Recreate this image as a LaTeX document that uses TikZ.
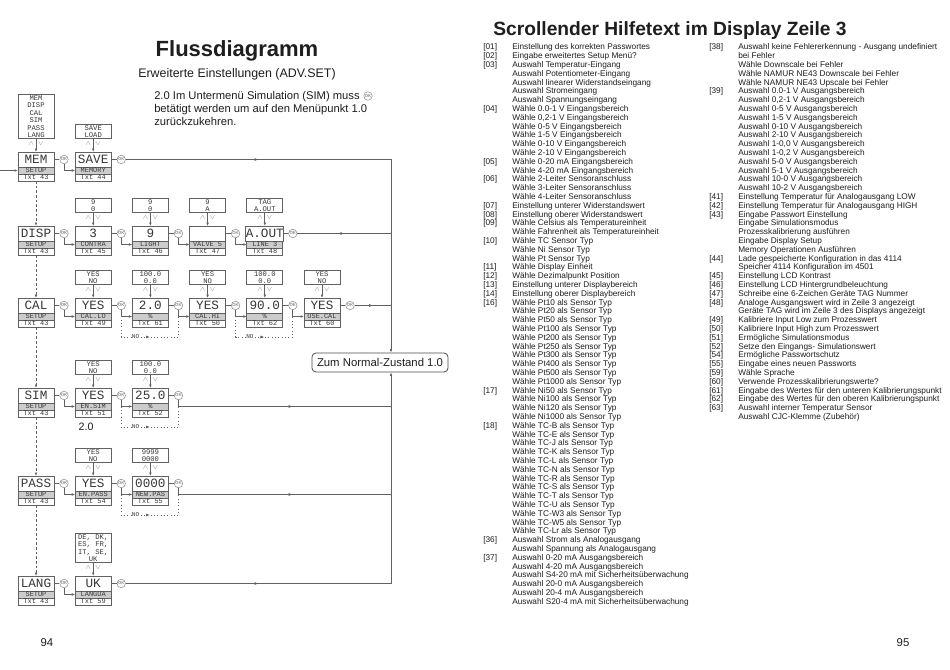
\documentclass[tikz,border=0pt]{standalone}
\usepackage{fontspec}
\setmainfont{Liberation Sans}
\newfontfamily\lcd{Liberation Mono}
\usetikzlibrary{arrows.meta,positioning,decorations.markings}
\definecolor{FigureInk}{HTML}{1E1E1E}
\definecolor{LcdLine}{gray}{0.38}
\definecolor{LcdBand}{gray}{0.80}
\definecolor{LcdInk}{gray}{0.22}
\definecolor{OkLine}{gray}{0.55}
\newcommand{\Display}[6]{%
  \node[lcdtop] (#1) at (#2,#3+7.5) {#4};
  \node[lcdband,anchor=north] (#1-band) at (#1.south) {#5};
  \node[lcdtxt,anchor=north] (#1-txt) at (#1-band.south) {#6};
  \node[okmark] (#1-ok) at (#2+28,#3+7.5) {OK};
  \draw[wire] (#1) -- (#1-ok);
}
\newcommand{\Choices}[2]{%
  \node[choice,above=9.75pt of #1] (#1-set) {#2};
  \draw[feed] (#1-set) -- node[scrollmark] {$\wedge\hspace{2.5pt}\vee$} (#1);
}
\newcommand{\HelpRef}[1]{[#1]}

\begin{document}
\begin{tikzpicture}[
  x=0.75pt,y=-0.75pt,
  font=\fontsize{8.4}{9.75}\selectfont,text=FigureInk,
  lcdtop/.style={draw=LcdLine,line width=0.5pt,minimum width=27pt,minimum height=11.25pt,
                 inner sep=0pt,outer sep=0pt,text=LcdInk,font=\lcd\fontsize{9.5}{9.5}\selectfont},
  lcdband/.style={lcdtop,fill=LcdBand,minimum height=5.25pt,font=\lcd\fontsize{5.2}{5.2}\selectfont},
  lcdtxt/.style={lcdtop,minimum height=5.25pt,font=\lcd\fontsize{5.2}{5.2}\selectfont},
  choice/.style={draw=LcdLine,line width=0.5pt,minimum width=27pt,inner xsep=0.5pt,inner ysep=0.8pt,
                 align=center,text=LcdInk,font=\lcd\fontsize{5.4}{5.6}\selectfont},
  okmark/.style={circle,draw=OkLine,line width=0.4pt,fill=white,minimum size=6.4pt,inner sep=0pt,
                 text=OkLine,font=\bfseries\fontsize{3.2}{3.2}\selectfont},
  scrollmark/.style={pos=.35,text=OkLine,font=\fontsize{4}{4}\selectfont,inner sep=0pt},
  wire/.style={draw=LcdLine,line width=0.5pt},
  feed/.style={wire,-{Latex[length=2.6pt,width=2pt]}},
  dashline/.style={wire,dash pattern=on 2pt off 1.5pt,-{Latex[length=2.6pt,width=2pt]}},
  midarrow/.style={postaction={decorate},decoration={markings,
                   mark=at position #1 with {\arrow{Latex[length=2.8pt,width=2.2pt]}}}},
  midarrow/.default=0.5,
  noloop/.style={wire,dotted,midarrow},
  nolabel/.style={fill=white,inner sep=0.3pt,text=LcdInk,font=\lcd\fontsize{4.5}{4.5}\selectfont},
  zumbox/.style={draw=FigureInk!80,line width=0.6pt,rounded corners=3pt,fill=white,
                 minimum width=102pt,minimum height=14.25pt,font=\fontsize{8.5}{8.5}\selectfont},
  helptext/.style={inner sep=0pt,anchor=north west,font=\fontsize{6.2}{6.6}\selectfont},
]
  \fill[white] (0,0) rectangle (950,670);
  \path[use as bounding box] (0,0) rectangle (950,670);

  \node[font=\bfseries\fontsize{16.5}{16.5}\selectfont] (title) at (237,51) {Flussdiagramm};
  \node[font=\fontsize{9.3}{9.3}\selectfont] (subtitle) at (237,74) {Erweiterte Einstellungen (ADV.SET)};
  \node[align=left,anchor=north west,inner sep=0pt] (simhint) at (154,91)
    {2.0 Im Untermenü Simulation (SIM) muss\\betätigt werden um auf den Menüpunkt 1.0\\zurückzukehren.};
  \node[okmark] (simhint-ok) at (368,96) {OK};

  \Display{mem}{36}{152}{MEM}{SETUP}{Txt 43}
  \Choices{mem}{MEM\\DISP\\CAL\\SIM\\PASS\\LANG}
  \Display{save}{93.2}{152}{SAVE}{MEMORY}{Txt 44}
  \Choices{save}{SAVE\\LOAD}

  \Display{disp}{36}{226}{DISP}{SETUP}{Txt 43}
  \Display{contra}{93.2}{226}{3}{CONTRA}{Txt 45}
  \Choices{contra}{9\\0}
  \Display{light}{150.4}{226}{9}{LIGHT}{Txt 46}
  \Choices{light}{9\\0}
  \Display{valve}{207.6}{226}{}{VALVE 5}{Txt 47}
  \Choices{valve}{9\\A}
  \Display{aout}{264.8}{226}{A.OUT}{LINE 3}{Txt 48}
  \Choices{aout}{TAG\\A.OUT}

  \Display{cal}{36}{298}{CAL}{SETUP}{Txt 43}
  \Display{callo}{93.2}{298}{YES}{CAL.LO}{Txt 49}
  \Choices{callo}{YES\\NO}
  \Display{lowval}{150.4}{298}{2.0}{\%}{Txt 61}
  \Choices{lowval}{100.0\\0.0}
  \Display{calhi}{207.6}{298}{YES}{CAL.HI}{Txt 50}
  \Choices{calhi}{YES\\NO}
  \Display{highval}{264.8}{298}{90.0}{\%}{Txt 62}
  \Choices{highval}{100.0\\0.0}
  \Display{usecal}{322}{298}{YES}{USE.CAL}{Txt 60}
  \Choices{usecal}{YES\\NO}

  \Display{sim}{36}{388}{SIM}{SETUP}{Txt 43}
  \Display{ensim}{93.2}{388}{YES}{EN.SIM}{Txt 51}
  \Choices{ensim}{YES\\NO}
  \Display{simval}{150.4}{388}{25.0}{\%}{Txt 52}
  \Choices{simval}{100.0\\0.0}
  \node[anchor=west,font=\fontsize{8}{8}\selectfont] (simnote) at (74,427) {2.0};

  \Display{pass}{36}{476}{PASS}{SETUP}{Txt 43}
  \Display{enpass}{93.2}{476}{YES}{EN.PASS}{Txt 54}
  \Choices{enpass}{YES\\NO}
  \Display{newpas}{150.4}{476}{0000}{NEW.PAS}{Txt 55}
  \Choices{newpas}{9999\\0000}

  \Display{lang}{36}{576}{LANG}{SETUP}{Txt 43}
  \Display{langua}{93.2}{576}{UK}{LANGUA}{Txt 59}
  \Choices{langua}{DE, DK,\\ES, FR,\\IT, SE,\\UK}

  \node[zumbox] (zum) at (380,362.5) {Zum Normal-Zustand 1.0};
  \coordinate (entry) at (0,170.5);
  \coordinate (bus-top) at (391,159.5);
  \coordinate (bus-low) at (391,583.5);

  \draw[feed] (entry) -- (mem-band);
  \foreach \a/\b in {mem/disp,disp/cal,cal/sim,sim/pass,pass/lang}
    \draw[dashline] (\a-txt) -- (\b);
  \foreach \a/\b in {mem/save,disp/contra,contra/light,light/valve,valve/aout,
                     cal/callo,callo/lowval,lowval/calhi,calhi/highval,highval/usecal,
                     sim/ensim,ensim/simval,pass/enpass,enpass/newpas,lang/langua}
    \draw[feed] (\a-ok) |- (\b-band.west);
  \foreach \a/\b in {callo/lowval,calhi/highval,ensim/simval,enpass/newpas}
    \draw[noloop] (\a-ok |- \b-band) -- ([yshift=-7.5pt]\a-ok |- \b-txt.south)
      -- node[nolabel,pos=.25] {NO} ([yshift=-7.5pt]\b-ok |- \b-txt.south) -- (\b-ok |- \b-band);

  \draw[wire,midarrow] (save-ok) -- (bus-top);
  \draw[feed] (bus-top) -- (bus-top |- zum.north);
  \draw[wire,midarrow] (aout-ok) -- (aout-ok -| bus-top);
  \draw[wire,midarrow] (usecal-ok) -- (usecal-ok -| bus-top);
  \draw[wire,midarrow=.55] (simval-ok) |- (simval-band -| bus-top);
  \draw[wire,midarrow=.55] (newpas-ok) |- (newpas-band -| bus-top);
  \draw[wire,midarrow] (langua-ok) -- (bus-low);
  \draw[feed] (bus-low) -- (bus-low |- zum.south);

  \node[font=\bfseries\fontsize{14.4}{14.4}\selectfont] (helptitle) at (670,31)
    {Scrollender Hilfetext im Display Zeile 3};
  \node[helptext] (helpA) at (483,43.5) {%
    \begin{tabular}{@{}p{21.75pt}@{}l@{}}
      \HelpRef{01} & Einstellung des korrekten Passwortes\\
      \HelpRef{02} & Eingabe erweitertes Setup Menü?\\
      \HelpRef{03} & Auswahl Temperatur-Eingang\\
               & Auswahl Potentiometer-Eingang\\
               & Auswahl linearer Widerstandseingang\\
               & Auswahl Stromeingang\\
               & Auswahl Spannungseingang\\
      \HelpRef{04} & Wähle 0.0-1 V Eingangsbereich\\
               & Wähle 0,2-1 V Eingangsbereich\\
               & Wähle 0-5 V Eingangsbereich\\
               & Wähle 1-5 V Eingangsbereich\\
               & Wähle 0-10 V Eingangsbereich\\
               & Wähle 2-10 V Eingangsbereich\\
      \HelpRef{05} & Wähle 0-20 mA Eingangsbereich\\
               & Wähle 4-20 mA Eingangsbereich\\
      \HelpRef{06} & Wähle 2-Leiter Sensoranschluss\\
               & Wähle 3-Leiter Sensoranschluss\\
               & Wähle 4-Leiter Sensoranschluss\\
      \HelpRef{07} & Einstellung unterer Widerstandswert\\
      \HelpRef{08} & Einstellung oberer Widerstandswert\\
      \HelpRef{09} & Wähle Celsius als Temperatureinheit\\
               & Wähle Fahrenheit als Temperatureinheit\\
      \HelpRef{10} & Wähle TC Sensor Typ\\
               & Wähle Ni Sensor Typ\\
               & Wähle Pt Sensor Typ\\
      \HelpRef{11} & Wähle Display Einheit\\
      \HelpRef{12} & Wähle Dezimalpunkt Position\\
      \HelpRef{13} & Einstellung unterer Displaybereich\\
      \HelpRef{14} & Einstellung oberer Displaybereich\\
      \HelpRef{16} & Wähle Pt10 als Sensor Typ\\
               & Wähle Pt20 als Sensor Typ\\
               & Wähle Pt50 als Sensor Typ\\
               & Wähle Pt100 als Sensor Typ\\
               & Wähle Pt200 als Sensor Typ\\
               & Wähle Pt250 als Sensor Typ\\
               & Wähle Pt300 als Sensor Typ\\
               & Wähle Pt400 als Sensor Typ\\
               & Wähle Pt500 als Sensor Typ\\
               & Wähle Pt1000 als Sensor Typ\\
      \HelpRef{17} & Wähle Ni50 als Sensor Typ\\
               & Wähle Ni100 als Sensor Typ\\
               & Wähle Ni120 als Sensor Typ\\
               & Wähle Ni1000 als Sensor Typ\\
      \HelpRef{18} & Wähle TC-B als Sensor Typ\\
               & Wähle TC-E als Sensor Typ\\
               & Wähle TC-J als Sensor Typ\\
               & Wähle TC-K als Sensor Typ\\
               & Wähle TC-L als Sensor Typ\\
               & Wähle TC-N als Sensor Typ\\
               & Wähle TC-R als Sensor Typ\\
               & Wähle TC-S als Sensor Typ\\
               & Wähle TC-T als Sensor Typ\\
               & Wähle TC-U als Sensor Typ\\
               & Wähle TC-W3 als Sensor Typ\\
               & Wähle TC-W5 als Sensor Typ\\
               & Wähle TC-Lr als Sensor Typ\\
      \HelpRef{36} & Auswahl Strom als Analogausgang\\
               & Auswahl Spannung als Analogausgang\\
      \HelpRef{37} & Auswahl 0-20 mA Ausgangsbereich\\
               & Auswahl 4-20 mA Ausgangsbereich\\
               & Auswahl S4-20 mA mit Sicherheitsüberwachung\\
               & Auswahl 20-0 mA Ausgangsbereich\\
               & Auswahl 20-4 mA Ausgangsbereich\\
               & Auswahl S20-4 mA mit Sicherheitsüberwachung
    \end{tabular}};
  \node[helptext] (helpB) at (709,43.5) {%
    \begin{tabular}{@{}p{21.75pt}@{}l@{}}
      \HelpRef{38} & Auswahl keine Fehlererkennung - Ausgang undefiniert\\
               & bei Fehler\\
               & Wähle Downscale bei Fehler\\
               & Wähle NAMUR NE43 Downscale bei Fehler\\
               & Wähle NAMUR NE43 Upscale bei Fehler\\
      \HelpRef{39} & Auswahl 0.0-1 V Ausgangsbereich\\
               & Auswahl 0,2-1 V Ausgangsbereich\\
               & Auswahl 0-5 V Ausgangsbereich\\
               & Auswahl 1-5 V Ausgangsbereich\\
               & Auswahl 0-10 V Ausgangsbereich\\
               & Auswahl 2-10 V Ausgangsbereich\\
               & Auswahl 1-0,0 V Ausgangsbereich\\
               & Auswahl 1-0,2 V Ausgangsbereich\\
               & Auswahl 5-0 V Ausgangsbereich\\
               & Auswahl 5-1 V Ausgangsbereich\\
               & Auswahl 10-0 V Ausgangsbereich\\
               & Auswahl 10-2 V Ausgangsbereich\\
      \HelpRef{41} & Einstellung Temperatur für Analogausgang LOW\\
      \HelpRef{42} & Einstellung Temperatur für Analogausgang HIGH\\
      \HelpRef{43} & Eingabe Passwort Einstellung\\
               & Eingabe Simulationsmodus\\
               & Prozesskalibrierung ausführen\\
               & Eingabe Display Setup\\
               & Memory Operationen Ausführen\\
      \HelpRef{44} & Lade gespeicherte Konfiguration in das 4114\\
               & Speicher 4114 Konfiguration im 4501\\
      \HelpRef{45} & Einstellung LCD Kontrast\\
      \HelpRef{46} & Einstellung LCD Hintergrundbeleuchtung\\
      \HelpRef{47} & Schreibe eine 6-Zeichen Geräte TAG Nummer\\
      \HelpRef{48} & Analoge Ausgangswert wird in Zeile 3 angezeigt\\
               & Geräte TAG wird im Zeile 3 des Displays angezeigt\\
      \HelpRef{49} & Kalibriere Input Low zum Prozesswert\\
      \HelpRef{50} & Kalibriere Input High zum Prozesswert\\
      \HelpRef{51} & Ermögliche Simulationsmodus\\
      \HelpRef{52} & Setze den Eingangs- Simulationswert\\
      \HelpRef{54} & Ermögliche Passwortschutz\\
      \HelpRef{55} & Eingabe eines neuen Passworts\\
      \HelpRef{59} & Wähle Sprache\\
      \HelpRef{60} & Verwende Prozesskalibrierungswerte?\\
      \HelpRef{61} & Eingabe des Wertes für den unteren Kalibrierungspunkt\\
      \HelpRef{62} & Eingabe des Wertes für den oberen Kalibrierungspunkt\\
      \HelpRef{63} & Auswahl interner Temperatur Sensor\\
               & Auswahl CJC-Klemme (Zubehör)
    \end{tabular}};

  \node[font=\fontsize{8.5}{8.5}\selectfont] (pageleft) at (47,643) {94};
  \node[font=\fontsize{8.5}{8.5}\selectfont] (pageright) at (903,643) {95};
\end{tikzpicture}
\end{document}
